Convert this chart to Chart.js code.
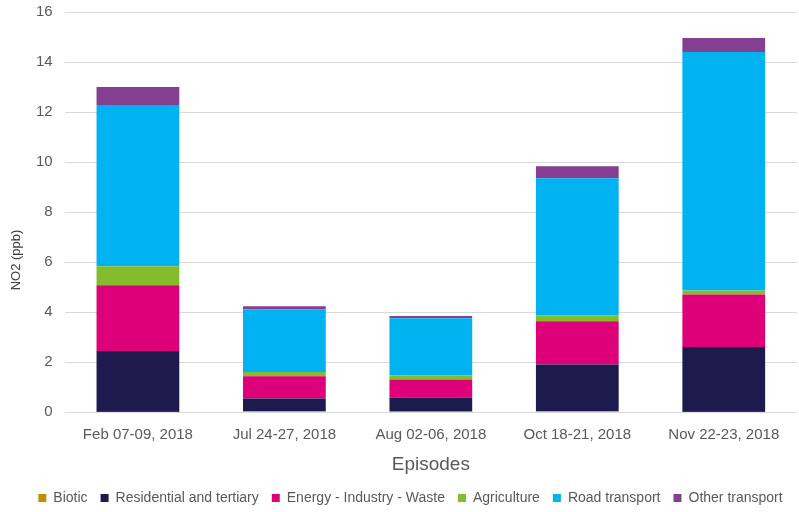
<!DOCTYPE html>
<html>
<head>
<meta charset="utf-8">
<script src="https://cdn.jsdelivr.net/npm/chart.js@4"></script>
<style>
  html, body { margin: 0; padding: 0; background: #fff; }
  #wrap { width: 799px; height: 512px; }
</style>
</head>
<body>
<div id="wrap"><canvas id="chart"></canvas></div>
<script>
// ── Data ───────────────────────────────────────────────
const episodes = ['Feb 07-09, 2018', 'Jul 24-27, 2018', 'Aug 02-06, 2018', 'Oct 18-21, 2018', 'Nov 22-23, 2018'];
const biotic = [0.01, 0.04, 0.03, 0.05, 0.01];
const residential = [2.44, 0.51, 0.56, 1.86, 2.60];
const energy = [2.63, 0.89, 0.72, 1.73, 2.10];
const agriculture = [0.76, 0.17, 0.16, 0.24, 0.16];
const roadTransport = [6.44, 2.51, 2.29, 5.47, 9.53];
const otherTransport = [0.72, 0.12, 0.09, 0.48, 0.56];

const FONT = 'Liberation Sans, Arial, sans-serif';
const GREY = '#595959';

function ds(label, data, color) {
  return { label, data, backgroundColor: color, borderWidth: 0 };
}

// y title sits a bit below the plot centre in the original, so draw it by hand
const yTitle = {
  id: 'yTitle',
  afterDraw(chart) {
    const ctx = chart.ctx;
    ctx.save();
    ctx.translate(16, 260);
    ctx.rotate(-Math.PI / 2);
    ctx.font = `13px ${FONT}`;
    ctx.fillStyle = '#404040';
    ctx.textAlign = 'center';
    ctx.textBaseline = 'middle';
    ctx.fillText('NO2 (ppb)', 0, 0);
    ctx.restore();
  },
};

// legend keeps wide item spacing but a shorter box
const legendTrim = {
  id: 'legendTrim',
  beforeUpdate(chart) {
    const lg = chart.legend;
    if (!lg || lg._trimmed) return;
    const fit = lg.fit.bind(lg);
    lg.fit = function () { fit(); this.height -= 3; };
    lg._trimmed = true;
  },
};

// ── Chart ──────────────────────────────────────────────
new Chart(document.getElementById('chart'), {
  type: 'bar',
  data: {
    labels: episodes,
    datasets: [
      ds('Biotic', biotic, '#bf9000'),
      ds('Residential and tertiary', residential, '#1d1a4e'),
      ds('Energy - Industry - Waste', energy, '#de0079'),
      ds('Agriculture', agriculture, '#84bd2b'),
      ds('Road transport', roadTransport, '#00b2f0'),
      ds('Other transport', otherTransport, '#853f91'),
    ],
  },
  plugins: [yTitle, legendTrim],
  options: {
    responsive: true,
    maintainAspectRatio: false,
    animation: false,
    layout: { padding: { top: 12, right: 2, left: 24, bottom: 0 } },
    datasets: { bar: { categoryPercentage: 1, barPercentage: 0.565 } },
    plugins: {
      tooltip: { enabled: false },
      legend: {
        position: 'bottom',
        labels: {
          color: GREY, boxWidth: 8, boxHeight: 8, padding: 13,
          font: { family: FONT, size: 14 },
        },
      },
    },
    scales: {
      x: {
        stacked: true,
        grid: { display: false },
        border: { display: false },
        ticks: { color: GREY, font: { family: FONT, size: 15 }, padding: 6 },
        title: { display: true, text: 'Episodes', color: GREY, font: { family: FONT, size: 19 }, padding: { top: 3, bottom: 2 } },
      },
      y: {
        stacked: true,
        min: 0, max: 16,
        ticks: { stepSize: 2, color: GREY, font: { family: FONT, size: 15 }, padding: 12 },
        grid: { color: '#d9d9d9', drawTicks: false },
        border: { display: false },
        afterFit(scale) { scale.paddingTop = 0; scale.paddingBottom = 0; },
      },
    },
  },
});
</script>
</body>
</html>
